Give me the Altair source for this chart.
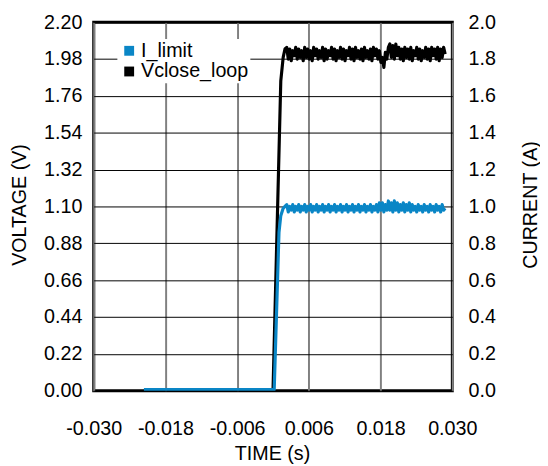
import altair as alt
import pandas as pd

FONT = "Liberation Sans"
BLUE = "#0A86C6"

# ---- data ----
series_names = ["I_limit", "Vclose_loop"]
series_colors = [BLUE, "black"]

# rise / baseline segments (time in s)
v_rise_time = [-0.0216, 0.0000, 0.0013, 0.0017, 0.0020]
v_rise_value = [0.00, 0.00, 1.85, 1.99, 2.04]            # volts
i_rise_time = [-0.0216, 0.0002, 0.0010, 0.0013, 0.0017, 0.0020]
i_rise_value = [0.006, 0.006, 0.86, 0.95, 0.99, 1.00]    # amps

# plateau sample times (ms)
plateau_time_ms = [
    2.30, 2.55, 2.80, 3.05, 3.30, 3.55, 3.80, 4.05, 4.30, 4.55,
    4.80, 5.05, 5.30, 5.55, 5.80, 6.05, 6.30, 6.55, 6.80, 7.05,
    7.30, 7.55, 7.80, 8.05, 8.30, 8.55, 8.80, 9.05, 9.30, 9.55,
    9.80, 10.05, 10.30, 10.55, 10.80, 11.05, 11.30, 11.55, 11.80, 12.05,
    12.30, 12.55, 12.80, 13.05, 13.30, 13.55, 13.80, 14.05, 14.30, 14.55,
    14.80, 15.05, 15.30, 15.55, 15.80, 16.05, 16.30, 16.55, 16.80, 17.05,
    17.30, 17.55, 17.80, 18.05, 18.30, 18.55, 18.80, 19.05, 19.30, 19.55,
    19.80, 20.05, 20.30, 20.55, 20.80, 21.05, 21.30, 21.55, 21.80, 22.05,
    22.30, 22.55, 22.80, 23.05, 23.30, 23.55, 23.80, 24.05, 24.30, 24.55,
    24.80, 25.05, 25.30, 25.55, 25.80, 26.05, 26.30, 26.55, 26.80, 27.05,
    27.30, 27.55, 27.80, 28.05, 28.30, 28.55, 28.80,
]

# Vclose_loop plateau (V)
v_plateau = [
    2.05, 1.98, 2.04, 1.97, 2.03, 2.00, 2.05, 1.98, 2.04, 1.99,
    2.03, 1.97, 2.05, 1.99, 2.04, 1.98, 2.03, 1.97, 2.05, 2.00,
    2.04, 1.98, 2.03, 1.99, 2.05, 1.97, 2.04, 1.98, 2.03, 2.00,
    2.05, 1.98, 2.04, 1.97, 2.03, 1.99, 2.05, 1.98, 2.04, 1.97,
    2.03, 2.00, 2.05, 1.98, 2.04, 1.97, 2.05, 1.99, 2.03, 1.98,
    2.04, 1.97, 2.05, 1.99, 2.03, 1.98, 2.04, 1.97, 2.05, 2.00,
    2.04, 1.98, 2.03, 1.96, 1.99, 1.93, 2.02, 1.98, 2.05, 2.07,
    1.99, 2.06, 1.98, 2.07, 2.00, 2.05, 1.98, 2.04, 1.97, 2.05,
    1.99, 2.04, 1.98, 2.05, 1.97, 2.03, 2.00, 2.05, 1.98, 2.04,
    1.97, 2.03, 1.99, 2.05, 1.98, 2.04, 1.97, 2.05, 2.00, 2.04,
    1.98, 2.05, 1.97, 2.04, 1.99, 2.05, 2.01,
]

# I_limit plateau (A)
i_plateau = [
    1.01, 0.97, 1.00, 0.98, 1.01, 0.97, 1.00, 0.98, 1.01, 0.97,
    1.00, 0.98, 1.01, 0.97, 1.00, 0.98, 1.01, 0.97, 1.00, 0.98,
    1.01, 0.97, 1.00, 0.98, 1.01, 0.97, 1.00, 0.98, 1.01, 0.97,
    1.00, 0.98, 1.01, 0.97, 1.00, 0.98, 1.01, 0.97, 1.00, 0.98,
    1.01, 0.97, 1.00, 0.98, 1.01, 0.97, 1.00, 0.98, 1.01, 0.97,
    1.00, 0.98, 1.01, 0.97, 1.00, 0.98, 1.01, 0.97, 1.00, 0.98,
    1.01, 0.97, 1.02, 0.98, 1.02, 0.97, 1.01, 0.98, 1.03, 0.98,
    1.02, 0.97, 1.03, 0.98, 1.02, 0.97, 1.01, 0.98, 1.02, 0.97,
    1.01, 0.98, 1.02, 0.97, 1.01, 0.98, 1.00, 0.97, 1.01, 0.98,
    1.00, 0.97, 1.01, 0.98, 1.00, 0.97, 1.01, 0.98, 1.00, 0.97,
    1.01, 0.98, 1.00, 0.97, 1.01, 0.98, 0.99,
]

x_ticks = [-0.030, -0.018, -0.006, 0.006, 0.018, 0.030]
v_ticks = [0.00, 0.22, 0.44, 0.66, 0.88, 1.10, 1.32, 1.54, 1.76, 1.98, 2.20]
i_ticks = [0.0, 0.2, 0.4, 0.6, 0.8, 1.0, 1.2, 1.4, 1.6, 1.8, 2.0]

plateau_time = [t / 1000.0 for t in plateau_time_ms]
df_v = pd.DataFrame({"t": v_rise_time + plateau_time,
                     "val": v_rise_value + v_plateau})
df_i = pd.DataFrame({"t": i_rise_time + plateau_time,
                     "val": i_rise_value + i_plateau})
# legend-key rows: placed outside the time domain, so they are clipped away
df_key = pd.DataFrame({"series": series_names, "t": [1.0, 1.0]})

x_axis = alt.Axis(
    values=x_ticks, labelExpr="replace(format(datum.value, '.3f'), '\u2212', '-')",
    grid=True, gridColor="#808080", gridWidth=2, ticks=False, domain=False,
    labelOverlap=False, labelFlush=False, labelBaseline="alphabetic", labelPadding=44,
    title="TIME (s)", titleX=181, titleY=70, titleBaseline="alphabetic",
    titleAlign="center", titleAngle=0,
)
x_enc = alt.X("t:Q", scale=alt.Scale(domain=[-0.03, 0.03], nice=False), axis=x_axis)

v_line = alt.Chart(df_v).mark_line(color="black", strokeWidth=3.2, strokeJoin="round",
                                    clip=True).encode(
    x=x_enc,
    y=alt.Y("val:Q", scale=alt.Scale(domain=[0, 2.2], nice=False),
            axis=alt.Axis(values=v_ticks, format=".2f", grid=True, gridColor="black",
                          gridWidth=1, ticks=False, domain=False, labelPadding=12,
                          labelOverlap=False, labelFlush=False,
                          title="VOLTAGE (V)", titleAngle=270, titleX=-69, titleY=185,
                          titleBaseline="alphabetic", titleAlign="center")),
)

i_line = alt.Chart(df_i).mark_line(color=BLUE, strokeWidth=3.2, strokeJoin="round",
                                    clip=True).encode(
    x=x_enc,
    y=alt.Y("val:Q", scale=alt.Scale(domain=[0, 2.0], nice=False),
            axis=alt.Axis(orient="right", values=i_ticks, format=".1f", grid=False,
                          ticks=False, domain=False, labelPadding=16,
                          labelOverlap=False, labelFlush=False,
                          title="CURRENT (A)", titleAngle=270, titleX=85, titleY=185,
                          titleBaseline="alphabetic", titleAlign="center")),
)

# legend key: filled squares
key = alt.Chart(df_key).mark_square(filled=True, clip=True, opacity=1, size=100).encode(
    x=x_enc,
    color=alt.Color(
        "series:N",
        scale=alt.Scale(domain=series_names, range=series_colors),
        legend=alt.Legend(
            title=None, orient="none", legendX=24, legendY=17,
            fillColor="white", padding=2, symbolType="square",
            symbolSize=100, symbolStrokeWidth=0, symbolOpacity=1, labelFontSize=20,
            labelFont=FONT, labelColor="black", labelOffset=2, rowPadding=1,
        ),
    ),
)

chart = (
    alt.layer(v_line, i_line, key)
    .resolve_scale(y="independent")
    .properties(
        width=364, height=374,
        autosize=alt.AutoSizeParams(type="none"),
        padding={"left": 87, "top": 11, "right": 89, "bottom": 73},
    )
    .configure_view(stroke="black", strokeWidth=3)
    .configure_axis(labelFont=FONT, labelFontSize=20, labelColor="black",
                    titleFont=FONT, titleFontSize=20, titleFontWeight="normal",
                    titleColor="black")
)

chart.save("out.html", embed_options={"renderer": "svg", "actions": False})
